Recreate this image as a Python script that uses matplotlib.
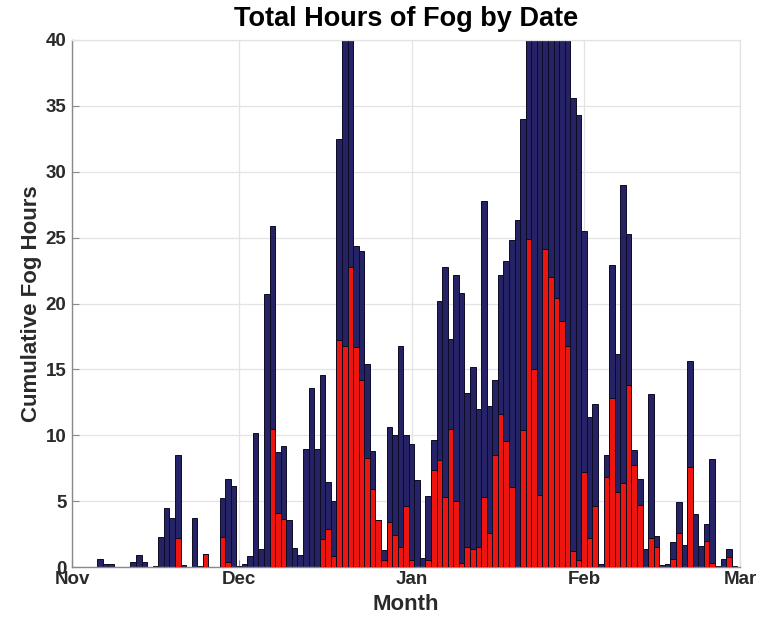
import numpy as np
import matplotlib
matplotlib.use("Agg")
import matplotlib.pyplot as plt

# ---- data (daily values starting Nov 1) ----
start_date = "2014-11-01"
fog_total = [
    0, 0, 0, 0, 0, 0.6, 0.2, 0.2, 0, 0,
    0, 0.35, 0.9, 0.4, 0, 0.1, 2.3, 4.5, 3.7, 8.5,
    0.15, 0, 3.7, 0.1, 1.0, 0, 0, 5.2, 6.7, 6.15,
    0.1, 0.2, 0.8, 10.2, 1.35, 20.7, 25.85, 8.75, 9.2, 3.55,
    1.45, 0.9, 8.95, 13.55, 8.95, 14.6, 6.45, 5.0, 32.5, 44,
    46, 24.4, 24.0, 15.4, 8.8, 3.6, 1.3, 10.6, 10.0, 16.8,
    10.0, 9.3, 6.6, 0.65, 5.4, 9.65, 20.2, 22.8, 17.3, 22.2,
    20.8, 13.2, 15.2, 12.0, 27.8, 12.2, 14.2, 22.2, 23.2, 24.8,
    26.3, 34.0, 41, 43, 45, 48, 47, 44, 42, 41,
    35.6, 34.3, 25.5, 11.4, 12.4, 0.2, 8.5, 22.9, 16.2, 29.0,
    25.3, 8.9, 6.7, 1.4, 13.1, 2.35, 0.15, 0.2, 1.9, 4.9,
    1.7, 15.6, 4.0, 1.6, 3.3, 8.2, 0.1, 0.6, 1.35, 0.1,
]
fog_subset = [
    0, 0, 0, 0, 0, 0, 0, 0, 0, 0,
    0, 0, 0, 0, 0, 0, 0, 0, 0, 2.2,
    0, 0, 0, 0, 1.0, 0, 0, 2.3, 0.4, 0,
    0, 0, 0, 0, 0, 0, 10.45, 4.1, 3.65, 0,
    0, 0, 0, 0, 0, 2.1, 2.9, 0.8, 17.2, 16.8,
    22.8, 16.7, 14.2, 8.3, 5.9, 3.55, 0.5, 3.4, 2.4, 1.5,
    4.6, 0.5, 0, 0, 0.5, 7.4, 8.1, 5.3, 10.45, 5.0,
    0.3, 1.5, 1.4, 1.5, 5.3, 2.6, 8.5, 11.6, 9.6, 6.1,
    0, 10.4, 24.9, 15.0, 5.5, 24.1, 22.0, 20.4, 18.7, 16.8,
    1.2, 0.5, 7.2, 2.2, 4.6, 0, 6.85, 12.8, 5.7, 6.4,
    13.8, 7.75, 4.7, 0, 2.2, 1.5, 0, 0, 0.6, 2.55,
    0, 7.6, 0, 0, 2.0, 0.3, 0, 0, 0.75, 0,
]
month_starts = ["2014-11-01", "2014-12-01", "2015-01-01", "2015-02-01", "2015-03-01"]
month_labels = ["Nov", "Dec", "Jan", "Feb", "Mar"]
y_ticks = [0, 5, 10, 15, 20, 25, 30, 35, 40]

# ---- styling ----
plt.rcParams["font.family"] = ["Liberation Sans", "DejaVu Sans"]
navy = "#252266"
red = "#ec150f"
edge = "#0c0b22"

fig = plt.figure(figsize=(7.76, 6.17), dpi=100)
ax = fig.add_axes([72 / 776, 1 - 567 / 617, (740 - 72) / 776, (567 - 40) / 617])

dates = np.datetime64(start_date) + np.arange(len(fog_total))
tot = np.array(fog_total, dtype=float)
sub = np.array(fog_subset, dtype=float)

m1 = tot > 0
ax.bar(dates[m1], tot[m1], width=1.0, color=navy, edgecolor=edge, linewidth=0.7, zorder=2)
m2 = sub > 0
ax.bar(dates[m2], sub[m2], width=1.0, color=red, edgecolor=edge, linewidth=0.7, zorder=3)

ticks = np.array(month_starts, dtype="datetime64[D]")
ax.set_xlim(ticks[0], ticks[-1])
ax.set_ylim(0, 40)
ax.set_xticks(ticks)
ax.set_xticklabels(month_labels)
ax.set_yticks(y_ticks)

ax.grid(True, color="#e3e3e3", linewidth=0.9, zorder=0)
ax.set_axisbelow(True)

for s in ["left", "bottom"]:
    ax.spines[s].set_color("#8a8a8a")
    ax.spines[s].set_linewidth(1.0)
for s in ["top", "right"]:
    ax.spines[s].set_color("#e3e3e3")
    ax.spines[s].set_linewidth(0.9)

ax.tick_params(direction="in", length=5, width=0.8, color="#8a8a8a",
               labelsize=13.5, labelcolor="#2a2a2a", pad=3)
ax.tick_params(axis="y", pad=4)
for lab in ax.get_xticklabels() + ax.get_yticklabels():
    lab.set_fontweight("bold")

ax.set_title("Total Hours of Fog by Date", fontsize=19.5, fontweight="bold", pad=10)
ax.set_xlabel("Month", fontsize=16, fontweight="bold", color="#2a2a2a", labelpad=4)
ax.set_ylabel("Cumulative Fog Hours", fontsize=16, fontweight="bold", color="#2a2a2a", labelpad=3)

fig.savefig("out.png", dpi=100)
